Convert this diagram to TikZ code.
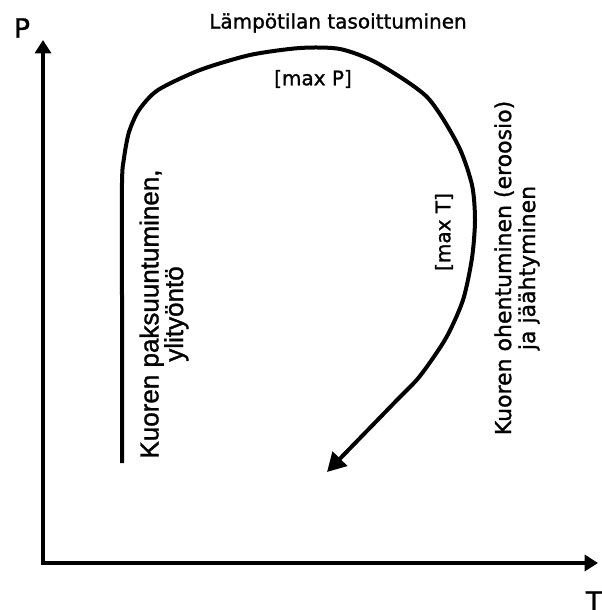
\documentclass[tikz,border=0pt]{standalone}
\usepackage{fontspec}
\setmainfont{DejaVu Sans}[FakeBold=1.2]
\newfontfamily\arialfont{Liberation Sans}[FakeBold=1.2]
\usetikzlibrary{arrows.meta}

\begin{document}
\begin{tikzpicture}[
  x=0.75pt, y=-0.75pt,
  axis/.style  = {-{Triangle[length=10pt,width=12pt]}, line width=3pt, line cap=rect},
  path/.style  = {-{Triangle[length=14pt,width=15pt]}, line width=3pt, line join=round},
  lbl/.style   = {inner sep=0pt, align=center},
  side/.style  = {lbl, rotate=90}
]
\useasboundingbox (0,0) rectangle (601,610);

% axes
\coordinate (origin) at (43,563);
\coordinate (ptip)   at (43,40);
\coordinate (ttip)   at (598,563);
\draw[axis] (origin) -- (ptip);
\draw[axis] (origin) -- (ttip);

\node[lbl, font=\fontsize{20}{24}\selectfont] (labelP) at (22,28)  {P};
\node[lbl, font=\fontsize{20}{24}\selectfont] (labelT) at (594,601) {T};

% P-T path
\draw[path] plot[smooth, tension=0.45] coordinates {
  (122,463) (122,300) (122,183) (124,158) (129,132) (139,110) (158,90)
  (200,70) (250,55) (300,48) (340,49) (377,63) (427,97) (458,145)
  (472,185) (475,220) (472,258) (463,300) (446,338) (420,376)
  (397,400) (327,472)};

% labels
\node[lbl, font=\fontsize{15}{18}\selectfont] (plateau) at (338,23) {Lämpötilan tasoittuminen};
\node[lbl, font=\fontsize{15}{18}\selectfont] (maxP) at (313,79) {[max P]};
\node[side, font=\fontsize{15}{18}\selectfont] (maxT) at (444,232) {[max T]};
\node[side, font=\arialfont\fontsize{19.5}{18.5}\selectfont] (thicken) at (164,314)
  {Kuoren paksuuntuminen,\\ ylityöntö};
\node[side, font=\fontsize{16.5}{18}\selectfont] (thin) at (517,268)
  {Kuoren ohentuminen (eroosio)\\ ja jäähtyminen};

\end{tikzpicture}
\end{document}
